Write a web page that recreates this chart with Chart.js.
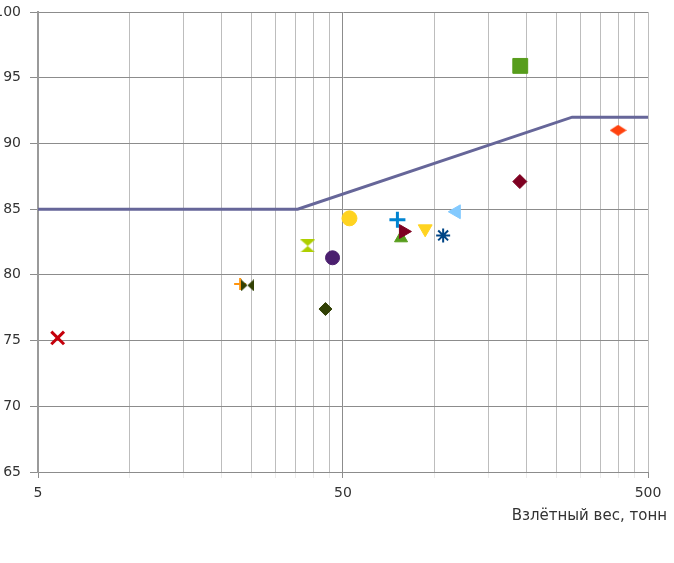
<!DOCTYPE html>
<html>
<head>
<meta charset="utf-8">
<script src="https://cdn.jsdelivr.net/npm/chart.js@4"></script>
<style>
  html, body { margin: 0; padding: 0; background: #ffffff; }
  #wrap { position: relative; width: 674px; height: 563px; }
  #wrap canvas { display: block; }
</style>
</head>
<body>
<div id="wrap"><canvas id="chart" width="674" height="563"></canvas></div>
<script>
// Takeoff weight (tonnes) and noise level for each aircraft type
const takeoffWeight = [5.8, 23.0, 24.3, 38.3, 43.8, 46.2, 52.5, 75.4, 78.9, 77.5, 93.0, 106.5, 117.6, 190.6, 190.0, 399.0];
const noiseLevel    = [75.2, 79.3, 79.2, 82.2, 77.4, 81.3, 84.3, 84.2, 83.3, 82.8, 83.5, 83.0, 84.8, 95.9, 87.1, 91.0];

// Limit line (broken line)
const limitWeight = [5, 35.5, 282, 500];
const limitLevel  = [85, 85, 92, 92];

// Axis ticks
const xGridValues  = [5, 10, 15, 20, 25, 30, 35, 40, 45, 50, 100, 150, 200, 250, 300, 350, 400, 450, 500];
const xLabelValues = [5, 50, 500];
const yTickValues  = [65, 70, 75, 80, 85, 90, 95, 100];
const xAxisTitle   = 'Взлётный вес, тонн';

// Marker appearance for each point (LibreOffice default palette)
const markerColors = ['#c5000b', '#ff950e', '#314004', '#aecf00', '#314004', '#4b1f6f', '#ffd320', '#0084d1',
                      '#7e0021', '#579d1c', '#ffd320', '#004586', '#83caff', '#579d1c', '#7e0021', '#ff420e'];

function shapeCanvas(w, h, color, draw) {
  const c = document.createElement('canvas');
  c.width = w; c.height = h;
  const g = c.getContext('2d');
  g.fillStyle = color;
  g.beginPath();
  draw(g, w, h);
  g.closePath();
  g.fill();
  return c;
}
const bowtie = shapeCanvas(13, 12, '#314004', (g, w, h) => {
  g.moveTo(0, 0); g.lineTo(w / 2, h / 2); g.lineTo(0, h); g.closePath();
  g.moveTo(w, 0); g.lineTo(w / 2, h / 2); g.lineTo(w, h);
});
const hourglass = shapeCanvas(15, 13, '#aecf00', (g, w, h) => {
  g.moveTo(0, 0); g.lineTo(w, 0); g.lineTo(w / 2, h / 2); g.closePath();
  g.moveTo(0, h); g.lineTo(w, h); g.lineTo(w / 2, h / 2);
});
const wideDiamond = shapeCanvas(17, 11, '#ff420e', (g, w, h) => {
  g.moveTo(0, h / 2); g.lineTo(w / 2, 0); g.lineTo(w, h / 2); g.lineTo(w / 2, h);
});

const markerStyles = ['crossRot', 'cross', bowtie, hourglass, 'rectRot', 'circle', 'circle', 'cross',
                      'triangle', 'triangle', 'triangle', 'star', 'triangle', 'rect', 'rectRot', wideDiamond];
const markerRotation = [0, 0, 0, 0, 0, 0, 0, 0, 90, 0, 180, 0, 270, 0, 0, 0];
const markerRadius   = [9, 6, 7, 7, 6.5, 7, 7.5, 8, 8, 7.5, 8, 7, 8, 10.5, 7, 8];
const markerLine     = [3, 2, 1, 1, 1, 1, 1, 3, 1, 1, 1, 2, 1, 1, 1, 1];
const drawOrder      = [0, 0, -1, 0, 0, 0, 0, 0, -1, 0, 0, 0, 0, 0, 0, 0];

const pointSets = takeoffWeight.map((w, i) => ({
  type: 'scatter',
  data: [{ x: w, y: noiseLevel[i] }],
  pointStyle: markerStyles[i],
  rotation: markerRotation[i],
  radius: markerRadius[i],
  hoverRadius: markerRadius[i],
  backgroundColor: markerColors[i],
  borderColor: markerColors[i],
  borderWidth: markerLine[i],
  order: drawOrder[i]
}));

const limitSet = {
  type: 'line',
  data: limitWeight.map((w, i) => ({ x: w, y: limitLevel[i] })),
  borderColor: '#666699',
  borderWidth: 3,
  pointRadius: 0,
  tension: 0,
  fill: false,
  order: 1
};

const axisTitlePlugin = {
  id: 'axisTitle',
  afterDraw(chart) {
    const ctx = chart.ctx;
    ctx.save();
    ctx.font = '15px "DejaVu Sans"';
    ctx.fillStyle = '#333333';
    ctx.textAlign = 'right';
    ctx.textBaseline = 'middle';
    ctx.fillText(xAxisTitle, 667, 516);
    ctx.restore();
  }
};

new Chart(document.getElementById('chart'), {
  data: { datasets: [limitSet, ...pointSets] },
  options: {
    responsive: false,
    animation: false,
    layout: { padding: { top: 0, right: 26, left: 0, bottom: 0 } },
    plugins: { legend: { display: false }, tooltip: { enabled: false }, title: { display: false } },
    scales: {
      x: {
        type: 'logarithmic',
        min: 5, max: 500,
        afterBuildTicks: s => { s.ticks = xGridValues.map(v => ({ value: v })); },
        afterFit: s => { s.height = 91; },
        ticks: {
          autoSkip: false, maxRotation: 0, padding: 7,
          color: '#333333',
          font: { family: 'DejaVu Sans', size: 14 },
          callback: v => xLabelValues.includes(v) ? String(v) : ''
        },
        grid: {
          color: c => (c.tick && c.tick.value === 50) ? '#8c8c8c' : '#bdbdbd',
          tickColor: c => (c.tick && xLabelValues.includes(c.tick.value)) ? '#8c8c8c' : '#ececec',
          tickLength: 6,
          lineWidth: 1
        },
        border: { color: '#8c8c8c', width: 1 }
      },
      y: {
        type: 'linear',
        min: 65, max: 100,
        afterBuildTicks: s => { s.ticks = yTickValues.map(v => ({ value: v })); },
        afterFit: s => { s.width = 38; },
        ticks: {
          padding: 9,
          color: '#333333',
          font: { family: 'DejaVu Sans', size: 14, lineHeight: 0.2 }
        },
        grid: { color: '#8c8c8c', tickColor: '#8c8c8c', tickLength: 8, lineWidth: 1 },
        border: { color: '#9a9a9a', width: 2 }
      }
    }
  },
  plugins: [axisTitlePlugin]
});
</script>
</body>
</html>
